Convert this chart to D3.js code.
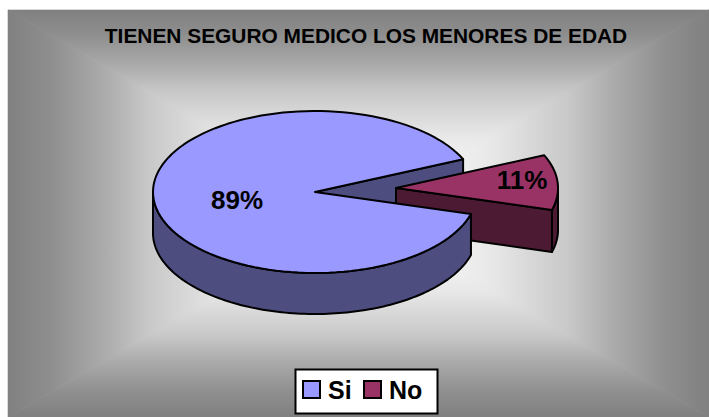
<!DOCTYPE html>
<html><head><meta charset="utf-8">
<script src="https://cdn.jsdelivr.net/npm/d3@7"></script>
<style>html,body{margin:0;padding:0;background:#fff}svg{display:block}text{font-family:"Liberation Sans",Arial,sans-serif;font-weight:bold;fill:#000}</style>
</head><body><div id="c"></div>
<script>
const titleText = "TIENEN SEGURO MEDICO LOS MENORES DE EDAD";
const categories = ["Si", "No"];
const values = [89, 11];
const labels = ["89%", "11%"];
const topColors = ["#9999FF", "#993366"];
const wallColors = ["#4D4D80", "#4D1A33"];
const bgStops = [[0,128],[0.12,142],[0.28,172],[0.4,200],[0.62,232],[0.85,250],[1,255]];

const W = 709, H = 417;
const svg = d3.select("#c").append("svg").attr("width", W).attr("height", H);

// rectangular "path" gradient background: four triangles meeting in the centre
const bg = {x0: 8, y0: 10, x1: 709, y1: 417};
const bc = {x: (bg.x0 + bg.x1) / 2, y: (bg.y0 + bg.y1) / 2};
const defs = svg.append("defs");
const corners = [[bg.x0,bg.y0],[bg.x1,bg.y0],[bg.x1,bg.y1],[bg.x0,bg.y1]];
const edges = [[bc.x,bg.y0],[bg.x1,bc.y],[bc.x,bg.y1],[bg.x0,bc.y]];
svg.append("rect").attr("x",bg.x0).attr("y",bg.y0).attr("width",bg.x1-bg.x0).attr("height",bg.y1-bg.y0).attr("fill","#c0c0c0");
edges.forEach((e,i)=>{
  const g = defs.append("linearGradient").attr("id","bg"+i).attr("gradientUnits","userSpaceOnUse")
    .attr("x1",e[0]).attr("y1",e[1]).attr("x2",bc.x).attr("y2",bc.y);
  bgStops.forEach(s => g.append("stop").attr("offset",s[0]).attr("stop-color",d3.rgb(s[1],s[1],s[1]).formatHex()));
  const a = corners[i], b = corners[(i+1)%4];
  svg.append("polygon").attr("points",[a,b,[bc.x,bc.y]].map(p=>p.join(",")).join(" "))
    .attr("fill",`url(#bg${i})`).attr("stroke",`url(#bg${i})`).attr("stroke-width",0.6);
});

svg.append("text").attr("x",366).attr("y",43).attr("text-anchor","middle").attr("font-size",20.9).text(titleText);

// pie geometry
const rx = 162, ry = 81, depth = 41;
const start = (90 + 15.7) * Math.PI / 180;   // d3.pie angle where "Si" begins
const arcs = d3.pie().sort(null).startAngle(start).endAngle(start + 2*Math.PI)(values);
// d3 pie angle: 0 = up, clockwise; convert to x/y on the flattened circle
const pt = (c, a, dy=0) => [c[0] + rx*Math.sin(a), c[1] - ry*Math.cos(a) + dy];
const line = d3.line();
const sample = (c, a0, a1, dy=0) => d3.range(0, 121).map(i => pt(c, a0 + (a1-a0)*i/120, dy));
const center0 = [315, 192], center1 = [396, 188];
const S = "#000", SW = 2;
function poly(points, fill){
  return svg.append("path").attr("d", line(points)+"Z").attr("fill", fill)
    .attr("stroke", S).attr("stroke-width", SW).attr("stroke-linejoin","round");
}
const si = arcs[0], no = arcs[1];

// back cut face of "Si" (seen through the gap)
poly([center0, pt(center0, si.endAngle), pt(center0, si.endAngle, depth), [center0[0], center0[1]+depth]], wallColors[0]);

// exploded slice "No"
const noD = 42;
const rimStart = 2*Math.PI + Math.PI/2;   // rightmost point of the ellipse, on the same turn as the slice
poly([...sample(center1, rimStart, no.endAngle), ...sample(center1, no.endAngle, rimStart, noD)], wallColors[1]);
poly([center1, pt(center1, no.endAngle), pt(center1, no.endAngle, noD), [center1[0], center1[1]+noD]], wallColors[1]);
poly([center1, ...sample(center1, no.startAngle, no.endAngle)], topColors[1]);

// front wall and top face of "Si"
const frontEnd = 3*Math.PI/2;   // leftmost point of the ellipse
poly([...sample(center0, si.startAngle, frontEnd), ...sample(center0, frontEnd, si.startAngle, depth)], wallColors[0]);
poly([center0, ...sample(center0, si.startAngle, si.endAngle)], topColors[0]);

// data labels
svg.append("text").attr("x",237).attr("y",209).attr("text-anchor","middle").attr("font-size",26).text(labels[0]);
svg.append("text").attr("x",522).attr("y",189).attr("text-anchor","middle").attr("font-size",26).text(labels[1]);

// legend
svg.append("rect").attr("x",295.5).attr("y",369.5).attr("width",142).attr("height",44).attr("fill","#fff").attr("stroke","#000").attr("stroke-width",2);
const legX = d3.scalePoint().domain(categories).range([303, 364]);
categories.forEach((c,i)=>{
  svg.append("rect").attr("x",legX(c)).attr("y",381).attr("width",17).attr("height",17).attr("fill",topColors[i]).attr("stroke","#000").attr("stroke-width",2);
  svg.append("text").attr("x",legX(c)+25).attr("y",399).attr("font-size",25).text(c);
});
</script></body></html>
